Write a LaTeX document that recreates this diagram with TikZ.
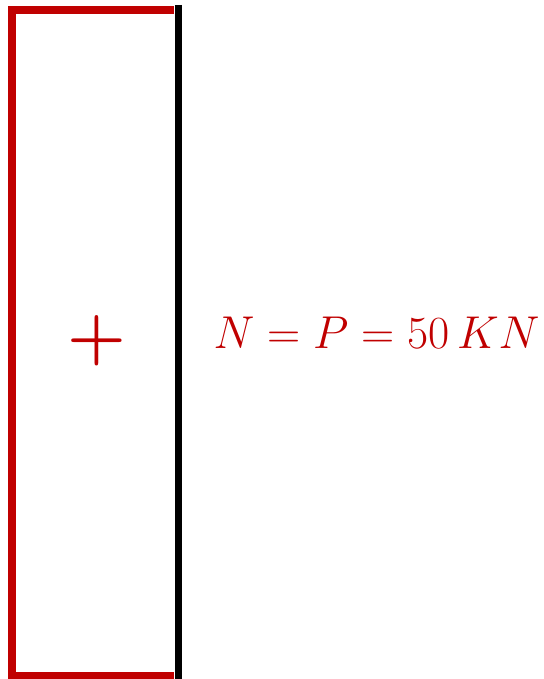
\documentclass[tikz,border=0pt]{standalone}
\usepackage{xcolor}
\usepackage{graphicx}
\definecolor{forcered}{RGB}{192,0,0}
\begin{document}
\begin{tikzpicture}[x=1pt,y=-1pt]
        \useasboundingbox (0,0) rectangle (543,679);

        % diagrama de esforco normal
        \draw[forcered,line width=8pt] (174,10) -- (12,10) -- (12,676) -- (174,676);
        \draw[black,line width=7pt] (178,5) -- (178,679);

        \node[forcered,font=\Huge\boldmath] (sinal) at (97,341) {\scalebox{2.7}{$+$}};
        \node[forcered,anchor=west,font=\Huge] (valor) at (210,333) {\scalebox{1.85}{$N = P = 50\,KN$}};

    \end{tikzpicture}
\end{document}
